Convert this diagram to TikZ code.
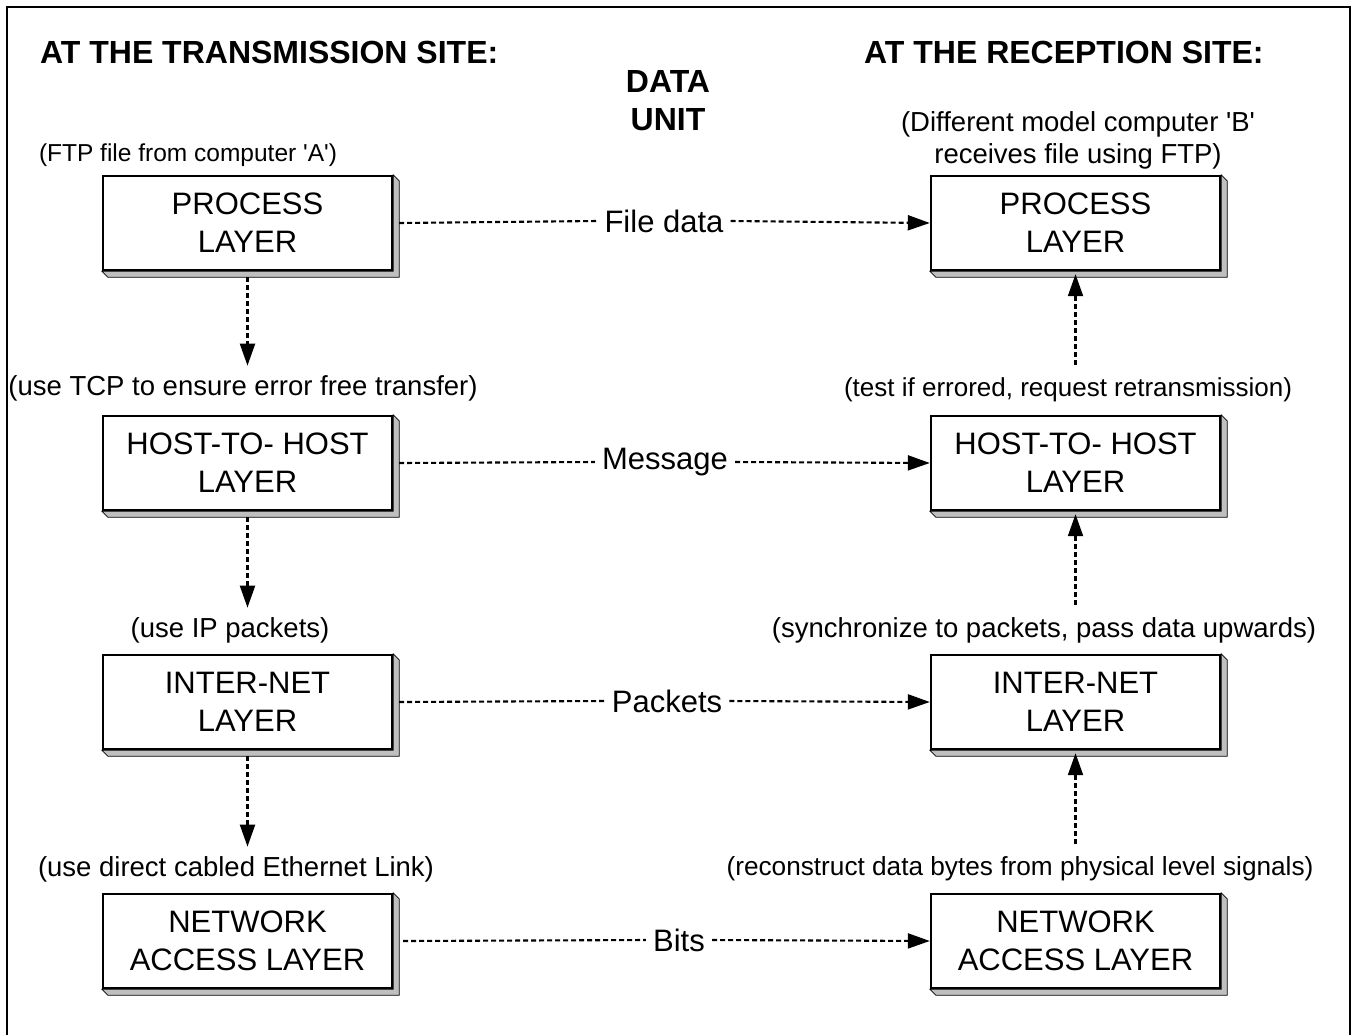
\documentclass[tikz,border=0pt]{standalone}
\usepackage{fontspec}
\setmainfont{Liberation Sans}
\usetikzlibrary{arrows.meta,calc}

\tikzset{
  layer/.style={draw, line width=2.4pt, fill=white, minimum width=289pt, minimum height=94pt,
    align=center, inner sep=0pt, font=\fontsize{31}{38}\selectfont},
  note/.style={align=center, font=\fontsize{#1}{32}\selectfont},
  note/.default=27.5,
  head/.style={align=center, inner sep=0pt, font=\bfseries\fontsize{32}{38}\selectfont},
  unit/.style={inner sep=7pt, font=\fontsize{31}{38}\selectfont},
  link/.style={line width=2.1pt, dash pattern=on 5pt off 3pt},
  tip/.style={-{Triangle[length=22pt,width=15pt]}}
}
\newcommand{\boxshade}[1]{%
  \filldraw[fill=black!25, line width=0.8pt]
    (#1.north east) -- ++(6,6) -- ($(#1.south east)+(6,6)$) -- ($(#1.south west)+(6,6)$)
    -- (#1.south west) -- (#1.south east) -- cycle;}

\begin{document}
\begin{tikzpicture}[x=1pt,y=-1pt]
  \useasboundingbox (0,0) rectangle (1352,1034);
  \draw [line width=2.5pt] (7,1040) -- (7,7) -- (1350,7) -- (1350,1040);
  % Headings
  \node [head, anchor=west] (tx) at (40,52) {AT THE TRANSMISSION SITE:};
  \node [head, anchor=west] (rx) at (864,52) {AT THE RECEPTION SITE:};
  \node [head] (du) at (668,101) {DATA\\UNIT};
  % Layers, transmission side
  \node [layer] (lp) at (247.5,223) {PROCESS\\LAYER};
  \node [layer] (lh) at (247.5,463) {HOST-TO- HOST\\LAYER};
  \node [layer] (li) at (247.5,702) {INTER-NET\\LAYER};
  \node [layer] (ln) at (247.5,941) {NETWORK\\ACCESS LAYER};
  % Layers, reception side
  \node [layer] (rp) at (1075.5,223) {PROCESS\\LAYER};
  \node [layer] (rh) at (1075.5,463) {HOST-TO- HOST\\LAYER};
  \node [layer] (ri) at (1075.5,702) {INTER-NET\\LAYER};
  \node [layer] (rn) at (1075.5,941) {NETWORK\\ACCESS LAYER};
  \boxshade{lp} \boxshade{lh} \boxshade{li} \boxshade{ln}
  \boxshade{rp} \boxshade{rh} \boxshade{ri} \boxshade{rn}
  % Notes
  \node [note=24.5] (n1) at (188,155) {(FTP file from computer \textquotesingle A\textquotesingle)};
  \node [note] (n2) at (1078,140) {(Different model computer \textquotesingle B\textquotesingle\\receives file using FTP)};
  \node [note] (n3) at (243,388) {(use TCP to ensure error free transfer)};
  \node [note=26] (n4) at (1068,390) {(test if errored, request retransmission)};
  \node [note] (n5) at (230,630) {(use IP packets)};
  \node [note] (n6) at (1044,630) {(synchronize to packets, pass data upwards)};
  \node [note] (n7) at (236,869) {(use direct cabled Ethernet Link)};
  \node [note=26.2] (n8) at (1020,869) {(reconstruct data bytes from physical level signals)};
  % Data units
  \node [unit] (fd) at (664,221) {File data};
  \node [unit] (ms) at (665,462) {Message};
  \node [unit] (pk) at (667,701) {Packets};
  \node [unit] (bt) at (679,940) {Bits};
  \draw [link] ([xshift=6pt]lp.east) -- (fd.west);
  \draw [link, tip] (fd.east) -- (rp.west);
  \draw [link] ([xshift=6pt]lh.east) -- (ms.west);
  \draw [link, tip] (ms.east) -- (rh.west);
  \draw [link] ([xshift=6pt]li.east) -- (pk.west);
  \draw [link, tip] (pk.east) -- (ri.west);
  \draw [link] ([xshift=10pt]ln.east) -- (bt.west);
  \draw [link, tip] (bt.east) -- (rn.west);
  % Down the stack
  \draw [link, tip, shorten >=6pt] ([yshift=-6pt]lp.south) -- (lp.south |- n3.north);
  \draw [link, tip, shorten >=6pt] ([yshift=-6pt]lh.south) -- (lh.south |- n5.north);
  \draw [link, tip, shorten >=6pt] ([yshift=-6pt]li.south) -- (li.south |- n7.north);
  % Up the stack
  \draw [link, tip, shorten <=9pt] (rp.south |- n4.north) -- ([yshift=-3pt]rp.south);
  \draw [link, tip, shorten <=9pt] (rh.south |- n6.north) -- ([yshift=-3pt]rh.south);
  \draw [link, tip, shorten <=9pt] (ri.south |- n8.north) -- ([yshift=-3pt]ri.south);
\end{tikzpicture}
\end{document}
